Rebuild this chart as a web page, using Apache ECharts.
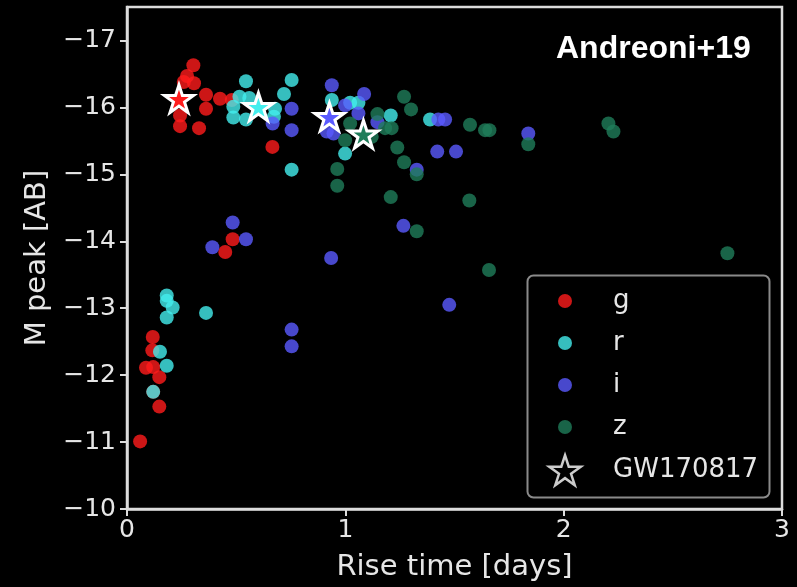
<!DOCTYPE html>
<html>
<head>
<meta charset="utf-8">
<script src="https://cdn.jsdelivr.net/npm/echarts@6/dist/echarts.min.js"></script>
<style>
  html, body { margin: 0; padding: 0; background: #000; }
  #chart { width: 797px; height: 587px; }
</style>
</head>
<body>
<div id="chart"></div>
<script>
// Peak absolute magnitude vs. rise time, per photometric band
const gRise = [0.304, 0.275, 0.307, 0.26, 0.362, 0.426, 0.48, 0.362, 0.243, 0.243, 0.33, 0.666, 0.484, 0.45, 0.118, 0.116, 0.087, 0.12, 0.148, 0.12, 0.148, 0.06];
const gPeak = [-16.63, -16.47, -16.36, -16.38, -16.19, -16.13, -16.11, -15.98, -15.88, -15.72, -15.69, -15.41, -14.03, -13.84, -12.57, -12.37, -12.11, -12.12, -11.97, -11.75, -11.53, -11.01];

const rRise = [0.545, 0.754, 0.719, 0.515, 0.56, 0.487, 0.487, 0.545, 0.678, 0.673, 0.938, 1.022, 1.06, 1.208, 1.388, 0.999, 0.754, 0.182, 0.182, 0.209, 0.182, 0.362, 0.151, 0.182, 0.12];
const rPeak = [-16.39, -16.41, -16.2, -16.16, -16.14, -16.01, -15.85, -15.82, -15.98, -15.86, -16.11, -16.07, -16.07, -15.88, -15.82, -15.31, -15.07, -13.19, -13.11, -13.01, -12.86, -12.93, -12.35, -12.14, -11.75];

const iRise = [0.938, 1.086, 0.754, 0.754, 0.667, 0.915, 0.946, 0.999, 1.06, 1.147, 1.426, 1.457, 1.838, 1.421, 1.507, 1.327, 0.484, 0.545, 0.391, 1.266, 0.935, 1.476, 0.754, 0.754];
const iPeak = [-16.33, -16.2, -15.98, -15.66, -15.76, -15.64, -15.61, -16.03, -15.91, -15.78, -15.82, -15.82, -15.61, -15.34, -15.34, -15.07, -14.28, -14.03, -13.91, -14.23, -13.75, -13.05, -12.68, -12.43];

const zRise = [1.269, 1.301, 1.147, 1.182, 1.212, 1.022, 0.999, 1.121, 1.238, 1.269, 0.963, 1.327, 0.963, 1.208, 1.327, 1.571, 1.64, 1.66, 1.838, 2.205, 2.228, 1.568, 1.658, 2.75];
const zPeak = [-16.16, -15.97, -15.9, -15.69, -15.69, -15.76, -15.51, -15.56, -15.4, -15.18, -15.08, -15.0, -14.83, -14.66, -14.15, -15.74, -15.66, -15.66, -15.45, -15.76, -15.64, -14.61, -13.57, -13.82];

// GW170817 in each band
const gwRise = [0.238, 0.602, 0.927, 1.083];
const gwPeak = [-16.13, -16.01, -15.86, -15.60];
const gwBand = ['g', 'r', 'i', 'z'];

const bandNames = ['g', 'r', 'i', 'z'];
const xTicks = [0, 1, 2, 3];
const yTicks = [-17, -16, -15, -14, -13, -12, -11, -10];

const bandColors = { g: '#ff1c1c', r: '#44eeee', i: '#5a5aff', z: '#1f7d5a' };
const starPath = 'path://M50,0L61.23,34.55L97.55,34.55L68.17,55.9L79.39,90.45L50,69.1L20.61,90.45L31.83,55.9L2.45,34.55L38.77,34.55Z';

function pairs(xs, ys) { return xs.map((x, k) => [x, ys[k]]); }

const bandData = { g: pairs(gRise, gPeak), r: pairs(rRise, rPeak), i: pairs(iRise, iPeak), z: pairs(zRise, zPeak) };

const fg = '#e6e6e6';
const tickFont = 'DejaVu Sans';
const minus = v => (v < 0 ? '\u2212' + Math.abs(v) : String(v));

const bandSeries = bandNames.map(b => ({
  name: b,
  type: 'scatter',
  symbol: 'circle',
  symbolSize: 14,
  itemStyle: { color: bandColors[b], opacity: 0.8 },
  data: bandData[b],
  z: 2
}));

const gwSeries = {
  name: 'GW170817',
  type: 'scatter',
  symbol: starPath,
  symbolKeepAspect: true,
  symbolSize: 29,
  itemStyle: { color: '#000', borderColor: '#fff', borderWidth: 3 },
  data: gwRise.map((x, k) => ({
    value: [x, gwPeak[k]],
    itemStyle: { color: bandColors[gwBand[k]], opacity: 1 }
  })),
  z: 3
};

const chart = echarts.init(document.getElementById('chart'), null, { renderer: 'canvas' });
chart.setOption({
  backgroundColor: '#000',
  animation: false,
  title: {
    text: 'Andreoni+19',
    left: 556, top: 33, padding: 0,
    textStyle: { color: '#fff', fontSize: 32, fontWeight: 'bold', fontFamily: 'Liberation Sans' }
  },
  grid: {
    left: 127, right: 15, top: 7, bottom: 76,
    show: true, borderColor: '#dcdcdc', borderWidth: 2.5, backgroundColor: 'transparent'
  },
  xAxis: {
    type: 'value', min: 0, max: 3, interval: 1,
    name: 'Rise time [days]', nameLocation: 'middle', nameGap: 44,
    nameTextStyle: { color: fg, fontSize: 29, fontFamily: tickFont },
    axisLine: { show: true, lineStyle: { color: '#dcdcdc', width: 2.5 } },
    axisTick: { show: true, inside: false, length: 7, customValues: xTicks, lineStyle: { color: '#dcdcdc', width: 2 } },
    axisLabel: { color: fg, fontSize: 25, fontFamily: tickFont, margin: 9, customValues: xTicks, formatter: v => minus(v) },
    splitLine: { show: false }
  },
  yAxis: {
    type: 'value', min: -17.5, max: -10, inverse: true,
    name: 'M peak [AB]', nameLocation: 'middle', nameGap: 74, nameRotate: 90,
    nameTextStyle: { color: fg, fontSize: 29, fontFamily: tickFont },
    axisLine: { show: true, lineStyle: { color: '#dcdcdc', width: 2.5 } },
    axisTick: { show: true, inside: false, length: 7, customValues: yTicks, lineStyle: { color: '#dcdcdc', width: 2 } },
    axisLabel: { color: fg, fontSize: 25, fontFamily: tickFont, margin: 11, customValues: yTicks, formatter: v => minus(v) },
    splitLine: { show: false }
  },
  graphic: [{
    type: 'rect', z: 3,
    shape: { x: 527.5, y: 275.5, width: 242, height: 222, r: 6 },
    style: { fill: '#000', stroke: '#8a8a8a', lineWidth: 2 }
  }],
  legend: [{
    orient: 'vertical', left: 558, top: 286, padding: 0,
    itemWidth: 58, itemHeight: 14, itemGap: 12,
    data: bandNames.map(b => ({ name: b, icon: 'circle' })),
    textStyle: { color: fg, fontSize: 26, fontFamily: tickFont, lineHeight: 30, padding: [0, 0, 0, 14] },
    selectedMode: false, z: 5
  }, {
    orient: 'vertical', left: 548, top: 454, padding: 0,
    itemWidth: 32, itemHeight: 30,
    data: [{ name: 'GW170817', icon: starPath, itemStyle: { color: '#000', borderColor: '#fff', borderWidth: 2.5 } }],
    textStyle: { color: fg, fontSize: 26, fontFamily: tickFont, lineHeight: 30, padding: [0, 0, 0, 27] },
    selectedMode: false, z: 5
  }],
  series: [...bandSeries, gwSeries]
});
</script>
</body>
</html>
